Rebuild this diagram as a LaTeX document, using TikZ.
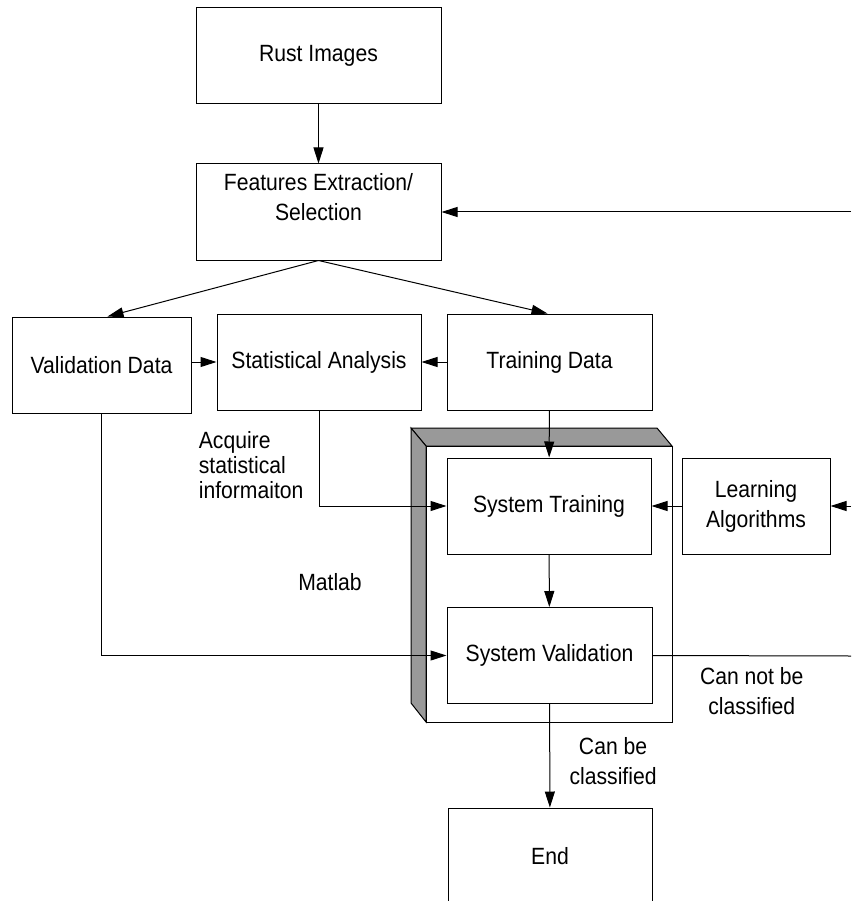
\documentclass[tikz,border=0pt]{standalone}
\usepackage{fontspec}
\setmainfont{Liberation Sans}[FakeStretch=0.9]
\usetikzlibrary{arrows.meta}

\begin{document}
\begin{tikzpicture}[x=1pt, y=-1pt, line width=1pt,
		arr/.style={-{Triangle[length=16pt,width=10pt]}},
		every node/.style={font=\fontsize{23.5}{30}\selectfont},
		block/.style={draw, minimum height=96pt, align=center, inner sep=2pt}]
			\useasboundingbox (0,0) rectangle (851,901);

			% Matlab frame
			\filldraw[fill=black!40] (411,428) -- (657,428) -- (672,446) -- (426,446) -- cycle;
			\filldraw[fill=black!40] (411,428) -- (426,446) -- (426,722) -- (411,703) -- cycle;
			\draw (426,446) rectangle (672,722);

			\node[block, minimum width=245pt] (rust) at (318.5,56) {Rust Images};
			\node[block, minimum width=245pt] (features) at (318.5,212) {Features Extraction/\\Selection\\\mbox{}};
			\node[block, minimum width=179pt] (valid) at (101.5,365) {Validation Data};
			\node[block, minimum width=204pt] (stat) at (319,362) {Statistical Analysis};
			\node[block, minimum width=205pt] (train) at (549.5,362) {Training Data};
			\node[block, minimum width=204pt] (systrain) at (549,506) {System Training};
			\node[block, minimum width=148pt] (learn) at (756,506) {Learning\\Algorithms};
			\node[block, minimum width=205pt] (sysval) at (549.5,655.5) {System Validation};
			\node[block, minimum width=204pt] (end) at (550,856) {End};

			\node[align=left, anchor=west, font=\fontsize{23.5}{25}\selectfont] (acquire) at (195,465) {Acquire\\statistical\\informaiton};
			\node (matlab) at (330,582) {Matlab};

			\coordinate (featin) at (851,212);
			\coordinate (learnin) at (851,506);
			\coordinate (notclass) at (851,656);

			\draw[arr] (rust) -- (features);
			\draw[arr] (features.south) -- ([xshift=6pt]valid.north);
			\draw[arr] (features.south) -- ([xshift=-2pt]train.north);
			\draw[arr] (valid.east |- stat.east) -- (stat.west);
			\draw[arr] (train) -- (stat);
			\draw[arr] (train) -- (systrain);
			\draw[arr] (stat.south) |- (systrain.west);
			\draw[arr] (valid.south) |- (sysval.west);
			\draw[arr] (learn) -- (systrain);
			\draw[arr] (learnin) -- (learn);
			\draw[arr] (featin) -- (features);
			\draw[arr] (systrain) -- (sysval);
			\draw[arr] (sysval) -- node[right=16pt, yshift=-5pt, align=center] {Can be\\classified} (end);
			\draw (sysval.east) -- node[below=8pt, align=center] {Can not be\\classified} (notclass);
		\end{tikzpicture}
\end{document}
